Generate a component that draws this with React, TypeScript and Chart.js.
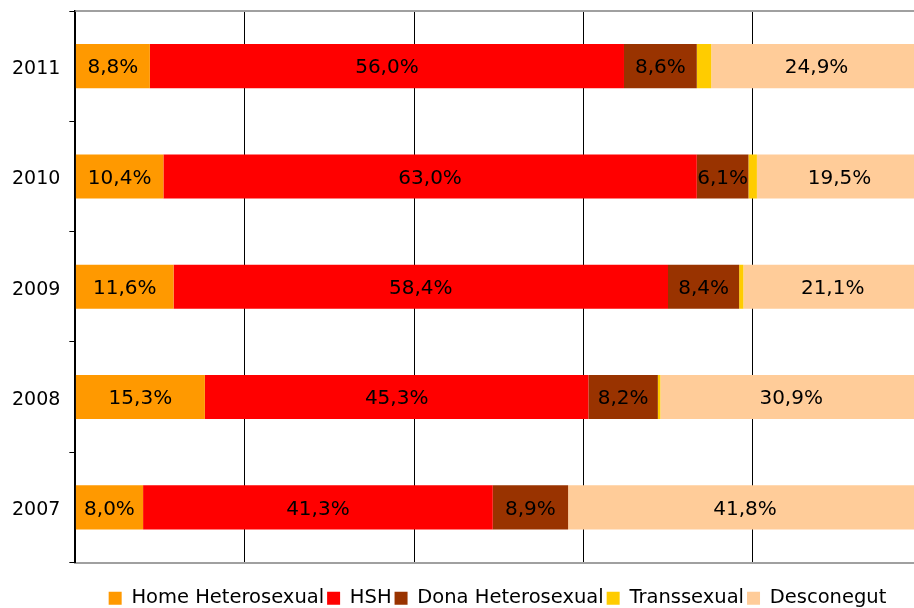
import React, { useEffect, useRef } from "react";
import { Chart, registerables } from "chart.js";

Chart.register(...registerables);

const years = ["2011", "2010", "2009", "2008", "2007"];
const homeHetero = [8.8, 10.4, 11.6, 15.3, 8.0];
const hsh = [56.0, 63.0, 58.4, 45.3, 41.3];
const donaHetero = [8.6, 6.1, 8.4, 8.2, 8.9];
const transsexual = [1.7, 1.0, 0.5, 0.3, 0.0];
const desconegut = [24.9, 19.5, 21.1, 30.9, 41.8];
const xTicks = [0, 20, 40, 60, 80, 100];

const FONT = "'DejaVu Sans', Verdana, sans-serif";

const fmt = (v: number) => v.toFixed(1).replace(".", ",") + "%";

const labelPlugin = {
  id: "segLabels",
  afterDatasetsDraw(chart: any) {
    const ctx = chart.ctx;
    ctx.save();
    ctx.font = `20px ${FONT}`;
    ctx.fillStyle = "#000";
    ctx.textAlign = "center";
    ctx.textBaseline = "middle";
    chart.data.datasets.forEach((ds: any, di: number) => {
      if (ds.showLabels === false) return;
      const meta = chart.getDatasetMeta(di);
      meta.data.forEach((el: any, i: number) => {
        const v = ds.data[i];
        if (!v) return;
        const p = el.getProps(["x", "y", "base"], true);
        ctx.fillText(fmt(v), (p.x + p.base) / 2, p.y + 2);
      });
    });
    ctx.restore();
  },
};

const frameTopPlugin = {
  id: "frameTop",
  afterLayout(chart: any) {
    // the legend is centred on the full (uncropped) figure width, not on the padded box
    if (chart.legend) {
      chart.legend.left += 35;
      chart.legend.right += 35;
    }
  },
  beforeDatasetsDraw(chart: any) {
    const { ctx, chartArea } = chart;
    ctx.save();
    ctx.strokeStyle = "#a0a0a0";
    ctx.lineWidth = 2;
    ctx.beginPath();
    ctx.moveTo(chartArea.left, chartArea.top);
    ctx.lineTo(chartArea.right, chartArea.top);
    ctx.stroke();
    ctx.restore();
  },
};

export default function App() {
  const ref = useRef<HTMLCanvasElement | null>(null);
  useEffect(() => {
    if (!ref.current) return;
    const chart = new Chart(ref.current, {
      type: "bar",
      data: {
        labels: years,
        datasets: [
          { label: "Home Heterosexual", data: homeHetero, backgroundColor: "#FF9900" },
          { label: "HSH", data: hsh, backgroundColor: "#FF0000" },
          { label: "Dona Heterosexual", data: donaHetero, backgroundColor: "#993300" },
          { label: "Transsexual", data: transsexual, backgroundColor: "#FFCC00", showLabels: false } as any,
          { label: "Desconegut", data: desconegut, backgroundColor: "#FFCC99" },
        ],
      },
      options: {
        indexAxis: "y",
        responsive: false,
        animation: false,
        layout: { padding: { top: 11, left: 3, right: 73, bottom: 0 } },
        datasets: { bar: { categoryPercentage: 0.8, barPercentage: 0.5, borderWidth: 0 } },
        scales: {
          x: {
            stacked: true,
            min: 0,
            max: 100,
            afterBuildTicks: (axis: any) => {
              axis.ticks = xTicks.map((v) => ({ value: v }));
            },
            afterFit: (axis: any) => {
              axis.height += 23;
            },
            ticks: { display: false },
            grid: { color: "#000", lineWidth: 1, drawTicks: false },
            border: { color: "#a0a0a0", width: 2 },
          },
          y: {
            stacked: true,
            afterFit: (axis: any) => {
              axis.paddingTop = 0;
              axis.paddingBottom = 0;
            },
            ticks: { color: "#000", font: { family: FONT, size: 19 }, padding: 9, labelOffset: 3 },
            grid: { drawOnChartArea: false, drawTicks: true, tickLength: 6, color: "#000", offset: true },
            border: { color: "#000", width: 2 },
          },
        },
        plugins: {
          legend: {
            position: "bottom",
            labels: {
              boxWidth: 13,
              boxHeight: 13,
              padding: 3,
              color: "#000",
              font: { family: FONT, size: 19.5 },
            },
          },
          tooltip: { enabled: false },
        },
      },
      plugins: [labelPlugin, frameTopPlugin],
    });
    return () => chart.destroy();
  }, []);
  return (
    <div style={{ position: "fixed", left: 0, top: 0, width: 914, height: 608, overflow: "hidden", background: "#fff" }}>
      <canvas ref={ref} width={995} height={618} style={{ display: "block" }} />
    </div>
  );
}
